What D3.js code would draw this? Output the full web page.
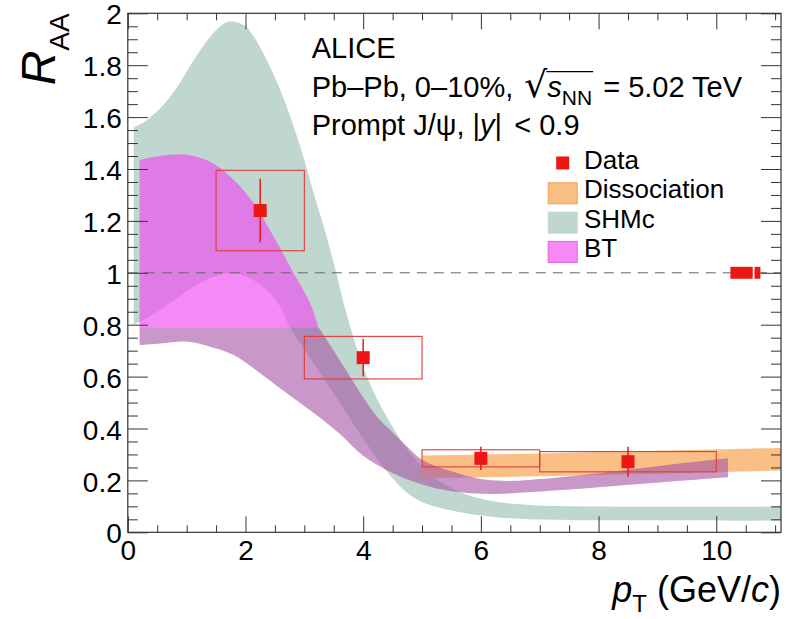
<!DOCTYPE html>
<html>
<head>
<meta charset="utf-8">
<script src="https://cdn.jsdelivr.net/npm/d3@7"></script>
<style>
  body { margin: 0; background: #fff; }
  svg { display: block; font-family: "Liberation Sans", Arial, Helvetica, sans-serif; }
</style>
</head>
<body>
<svg id="chart" width="786" height="619"></svg>
<script>
// ---- data ----
var xMajorTicks = [0, 2, 4, 6, 8, 10];
var yMajorTicks = [0, 0.2, 0.4, 0.6, 0.8, 1, 1.2, 1.4, 1.6, 1.8, 2];

// measured points
var dataPt   = [2.25, 4, 6, 8.5];
var dataRaa  = [1.24, 0.673, 0.285, 0.272];
var statErr  = [0.122, 0.072, 0.045, 0.058];
var sysErr   = [0.155, 0.082, 0.033, 0.039];
var binLo    = [1.5, 3, 5, 7];
var binHi    = [3, 5, 7, 10];
// global uncertainties drawn at unity
var globLo   = [10.24, 10.65];
var globHi   = [10.62, 10.75];
var globErr  = [0.023, 0.023];

// SHMc band
var shmcUpper = [[0.1,1.56],[0.25,1.577],[0.55,1.634],[0.85,1.72],[1.12,1.82],[1.4,1.91],[1.63,1.96],
  [1.75,1.968],[1.97,1.955],[2.14,1.91],[2.36,1.82],[2.59,1.705],[2.82,1.563],[3.0,1.435],[3.16,1.306],
  [3.33,1.178],[3.5,1.037],[3.72,0.84],[3.95,0.67],[4.2,0.53],[4.57,0.381],[4.85,0.291],[5.13,0.227],
  [5.41,0.182],[5.7,0.15],[6.26,0.118],[6.83,0.105],[7.96,0.099],[11.1,0.099]];
var shmcLower = [[0.1,0.80],[0.21,0.812],[0.55,0.857],[1.12,0.947],[1.46,0.985],[1.74,0.998],[2.02,0.985],
  [2.36,0.934],[2.59,0.869],[2.76,0.788],[3.16,0.651],[3.61,0.497],[4.06,0.34],[4.57,0.19],[4.85,0.135],
  [5.13,0.105],[5.7,0.075],[6.26,0.058],[6.83,0.05],[8.0,0.046],[11.1,0.045]];

// Dissociation band
var dissUpper = [[5,0.296],[7,0.304],[9,0.314],[11.1,0.325]];
var dissLower = [[5,0.208],[7,0.216],[9,0.226],[11.1,0.238]];

// BT band
var btSplit = 0.79;
var btUpper = [[0.2,1.435],[0.55,1.45],[1.0,1.455],[1.4,1.428],[1.8,1.358],[2.14,1.268],[2.48,1.139],
  [2.82,0.998],[3.1,0.882],[3.24,0.79]];
var btTail = [[3.24,0.79],[3.5,0.70],[3.75,0.61],[4.0,0.52],[4.25,0.44],[4.5,0.385],[4.75,0.33],[5.0,0.28],
  [5.5,0.235],[6.0,0.205],[6.5,0.198],[7.0,0.205],[8.0,0.228],[9.0,0.255],[10.2,0.285]];
var btLower = [[0.2,0.722],[0.55,0.728],[1.0,0.735],[1.4,0.715],[1.8,0.683],[2.25,0.613],[2.7,0.536],
  [3.16,0.46],[3.6,0.38],[4.0,0.295],[4.57,0.221],[5.13,0.176],[5.7,0.153],[6.26,0.148],[6.83,0.155],
  [7.96,0.173],[9.09,0.193],[10.2,0.212]];

var legendNames = ["Data", "Dissociation", "SHMc", "BT"];

// ---- setup ----
var svg = d3.select("#chart"),
    width = +svg.attr("width"),
    height = +svg.attr("height");
var margin = {top: 13.3, right: 5, bottom: 86.7, left: 127.8};

var x = d3.scaleLinear().domain([0, 11.1]).range([margin.left, width - margin.right]);
var y = d3.scaleLinear().domain([0, 2]).range([height - margin.bottom, margin.top]);

var teal = "#bfd7cf", orange = "#f9bf84", pink = "rgba(240,74,241,0.65)", mauve = "rgba(165,83,165,0.6)";
var red = "#ee1515";

svg.append("clipPath").attr("id", "frame")
  .append("rect")
  .attr("x", x(0)).attr("y", y(2))
  .attr("width", x(11.1) - x(0)).attr("height", y(0) - y(2));

var edge = d3.line()
  .x(function(d) { return x(d[0]); })
  .y(function(d) { return y(d[1]); })
  .curve(d3.curveCatmullRom.alpha(0.5));

// join several edges into one closed outline
function outline(parts) {
  var s = "";
  parts.forEach(function(p, i) {
    var e = edge(p);
    s += (i == 0) ? e : "L" + e.slice(1);
  });
  return s + "Z";
}
function rev(a) { return a.slice().reverse(); }

var plot = svg.append("g").attr("clip-path", "url(#frame)");

plot.append("path").attr("d", outline([shmcUpper, rev(shmcLower)])).attr("fill", teal);
plot.append("path").attr("d", outline([dissUpper, rev(dissLower)])).attr("fill", orange);
plot.append("path")
  .attr("d", outline([btUpper, [[btUpper[btUpper.length-1][0], btSplit], [btUpper[0][0], btSplit]]]))
  .attr("fill", pink);
plot.append("path")
  .attr("d", outline([[[btLower[0][0], btSplit], [btTail[0][0], btSplit]], btTail, rev(btLower)]))
  .attr("fill", mauve);

// unity line
plot.append("line")
  .attr("x1", x(0)).attr("x2", x(11.1))
  .attr("y1", y(1)).attr("y2", y(1))
  .attr("stroke", "#666").attr("stroke-width", 1)
  .attr("stroke-dasharray", "10,7");

// systematic boxes
plot.selectAll(".sys")
  .data(dataPt)
  .enter().append("rect")
  .attr("class", "sys")
  .attr("x", function(d, i) { return x(binLo[i]); })
  .attr("width", function(d, i) { return x(binHi[i]) - x(binLo[i]); })
  .attr("y", function(d, i) { return y(dataRaa[i] + sysErr[i]); })
  .attr("height", function(d, i) { return y(dataRaa[i] - sysErr[i]) - y(dataRaa[i] + sysErr[i]); })
  .attr("fill", "none").attr("stroke", "#e23a3a").attr("stroke-width", 1.1);

plot.selectAll(".stat")
  .data(dataPt)
  .enter().append("line")
  .attr("class", "stat")
  .attr("x1", function(d) { return x(d); })
  .attr("x2", function(d) { return x(d); })
  .attr("y1", function(d, i) { return y(dataRaa[i] + statErr[i]); })
  .attr("y2", function(d, i) { return y(dataRaa[i] - statErr[i]); })
  .attr("stroke", red).attr("stroke-width", 1.5);

var ms = 13;
plot.selectAll(".pt")
  .data(dataPt)
  .enter().append("rect")
  .attr("class", "pt")
  .attr("x", function(d) { return x(d) - ms / 2; })
  .attr("y", function(d, i) { return y(dataRaa[i]) - ms / 2; })
  .attr("width", ms).attr("height", ms)
  .attr("fill", red);

plot.selectAll(".glob")
  .data(globLo)
  .enter().append("rect")
  .attr("class", "glob")
  .attr("x", function(d) { return x(d); })
  .attr("width", function(d, i) { return x(globHi[i]) - x(d); })
  .attr("y", function(d, i) { return y(1 + globErr[i]); })
  .attr("height", function(d, i) { return y(1 - globErr[i]) - y(1 + globErr[i]); })
  .attr("fill", red);

// ---- axes (ROOT style, ticks inside on all sides) ----
var xMinor = d3.range(0, 11.01, 0.5).filter(function(v) { return v % 2 != 0; });
var yMinor = d3.range(0, 40).map(function(i) { return i * 0.05; }).filter(function(v, i) { return i % 4 != 0; });

function styleAxis(g) {
  g.select(".domain").remove();
  g.selectAll("line").attr("stroke", "#333");
  g.selectAll("text").attr("fill", "#000").style("font-family", "Liberation Sans, Arial, sans-serif");
}

var fmt = d3.format("~g");
svg.append("g").attr("transform", "translate(0," + y(0) + ")")
  .call(d3.axisBottom(x).tickValues(xMajorTicks).tickSize(-16).tickPadding(8).tickFormat(fmt))
  .call(styleAxis).selectAll("text").style("font-size", "28px");
svg.append("g").attr("transform", "translate(0," + y(0) + ")")
  .call(d3.axisBottom(x).tickValues(xMinor).tickSize(-7).tickFormat(""))
  .call(styleAxis);
svg.append("g").attr("transform", "translate(0," + y(2) + ")")
  .call(d3.axisTop(x).tickValues(xMajorTicks).tickSize(-16).tickFormat(""))
  .call(styleAxis);
svg.append("g").attr("transform", "translate(0," + y(2) + ")")
  .call(d3.axisTop(x).tickValues(xMinor).tickSize(-7).tickFormat(""))
  .call(styleAxis);

svg.append("g").attr("transform", "translate(" + x(0) + ",0)")
  .call(d3.axisLeft(y).tickValues(yMajorTicks).tickSize(-20).tickPadding(6).tickFormat(fmt))
  .call(styleAxis).selectAll("text").style("font-size", "28px").attr("dy", "0.38em");
svg.append("g").attr("transform", "translate(" + x(0) + ",0)")
  .call(d3.axisLeft(y).tickValues(yMinor).tickSize(-10).tickFormat(""))
  .call(styleAxis);
svg.append("g").attr("transform", "translate(" + x(11.1) + ",0)")
  .call(d3.axisRight(y).tickValues(yMajorTicks).tickSize(-20).tickFormat(""))
  .call(styleAxis);
svg.append("g").attr("transform", "translate(" + x(11.1) + ",0)")
  .call(d3.axisRight(y).tickValues(yMinor).tickSize(-10).tickFormat(""))
  .call(styleAxis);

svg.append("rect")
  .attr("x", x(0)).attr("y", y(2))
  .attr("width", x(11.1) - x(0)).attr("height", y(0) - y(2))
  .attr("fill", "none").attr("stroke", "#333").attr("stroke-width", 1.2);

// ---- axis titles ----
var xt = svg.append("text")
  .attr("x", x(11.1)).attr("y", 602)
  .attr("text-anchor", "end")
  .style("font-size", "36px");
xt.append("tspan").style("font-style", "italic").text("p");
xt.append("tspan").style("font-size", "24px").attr("dy", 10).text("T");
xt.append("tspan").attr("dy", -10).text(" (GeV/");
xt.append("tspan").style("font-style", "italic").text("c");
xt.append("tspan").text(")");

var yt = svg.append("text")
  .attr("transform", "translate(55," + y(2) + ") rotate(-90)")
  .attr("text-anchor", "end");
yt.append("tspan").style("font-size", "48px").style("font-style", "italic").text("R");
yt.append("tspan").style("font-size", "28px").attr("dy", 14).text("AA");

// ---- labels ----
var tx = 311.7;
svg.append("text").attr("x", tx).attr("y", 58).style("font-size", "29px").text("ALICE");

var l2 = svg.append("text").attr("x", tx).attr("y", 97).style("font-size", "29px");
l2.append("tspan").text("Pb\u2013Pb, 0\u201310%, ");
l2.append("tspan").attr("dx", 3).style("font-size", "36px").style("font-family", "DejaVu Sans").text("\u221A");
l2.append("tspan").style("font-style", "italic").text("s");
l2.append("tspan").style("font-size", "21px").attr("dy", 8).text("NN");
l2.append("tspan").attr("dy", -8).attr("dx", 3).text(" = 5.02 TeV");
var l2n = l2.node();
var ox1 = l2n.getEndPositionOfChar(14).x, ox2 = l2n.getEndPositionOfChar(17).x;
svg.append("line")
  .attr("x1", ox1 - 1).attr("x2", ox2 + 1)
  .attr("y1", 71.7).attr("y2", 71.7)
  .attr("stroke", "#000").attr("stroke-width", 1.3);

var l3 = svg.append("text").attr("x", tx).attr("y", 135).style("font-size", "29px");
l3.append("tspan").text("Prompt J/\u03C8, |");
l3.append("tspan").style("font-style", "italic").text("y");
l3.append("tspan").text("|");
l3.append("tspan").attr("dx", 4).text(" < 0.9");

// ---- legend ----
var legFill = [red, orange, teal, "#f58af5"];
var legStroke = [null, "#f0a050", teal, "#e060e0"];
var leg = svg.append("g").attr("transform", "translate(547.7,155)");
legendNames.forEach(function(name, i) {
  var ly = i * 29.3;
  if (i == 0) {
    leg.append("rect").attr("x", 15 - 6.5).attr("y", ly + 8 - 6.5).attr("width", 13).attr("height", 13).attr("fill", red);
  } else {
    leg.append("rect").attr("x", 0.5).attr("y", ly - 1.5).attr("width", 29).attr("height", 21)
      .attr("fill", legFill[i]).attr("stroke", legStroke[i]).attr("stroke-width", 1);
  }
  leg.append("text").attr("x", 36.3).attr("y", ly + 14).style("font-size", "26px").text(name);
});
</script>
</body>
</html>
